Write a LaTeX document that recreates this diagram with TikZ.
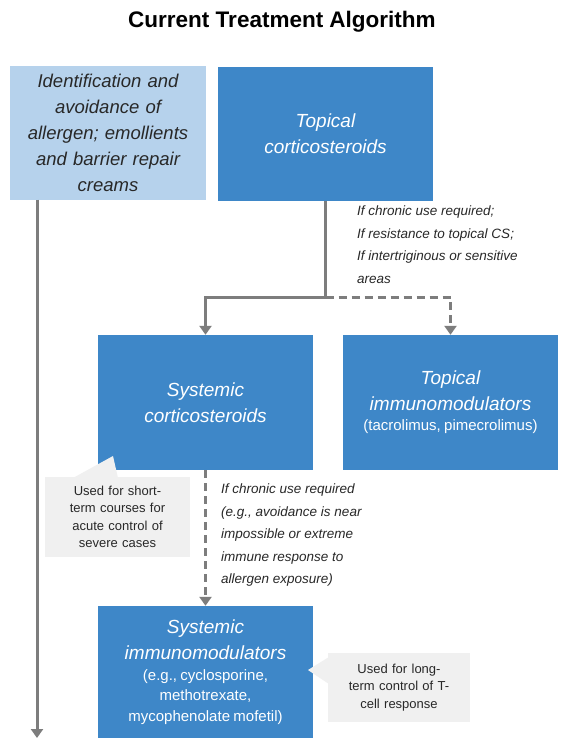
\documentclass[tikz,border=0pt]{standalone}
\usepackage{fontspec}
\setmainfont{Liberation Sans}
\usetikzlibrary{arrows.meta}
\definecolor{boxblue}{RGB}{62,135,200}
\definecolor{lightblue}{RGB}{182,210,236}
\definecolor{linegray}{RGB}{125,125,125}
\definecolor{callgray}{RGB}{240,240,240}
\definecolor{txtgray}{RGB}{40,40,40}
\tikzset{
  bluebox/.style={fill=boxblue, draw=none, minimum width=215pt, minimum height=135pt, inner sep=4pt, text=white, align=center, text width=205pt},
  lightbox/.style={fill=lightblue, draw=none, minimum width=196pt, minimum height=134pt, inner sep=3pt, text=txtgray, align=center, text width=190pt},
  callbox/.style={fill=callgray, draw=none, inner sep=2pt, text=txtgray, align=center, font=\fontsize{13}{17.5}\selectfont},
  conn/.style={draw=linegray, line width=3pt, -{Triangle[length=9pt,width=12pt]}},
  dconn/.style={conn, dash pattern=on 8pt off 5pt},
  cond/.style={text=txtgray, align=left, anchor=north west, inner sep=0pt, font=\fontsize{13.5}{22.5}\selectfont\itshape},
  big/.style={font=\fontsize{19}{26}\selectfont\itshape},
}
\begin{document}
\begin{tikzpicture}[x=1pt,y=-1pt]
\useasboundingbox[fill=white] (0,0) rectangle (564,740);
\node[font=\fontsize{22.5}{26}\selectfont\bfseries] (title) at (282,22) {Current Treatment Algorithm};

\node[lightbox, font=\fontsize{18.5}{26}\selectfont\itshape] (b1) at (108,132.5) {Identification and\\avoidance of\\allergen; emollients\\and barrier repair\\creams};
\node[bluebox, minimum height=134pt, big] (b2) at (325.5,134) {Topical\\corticosteroids};
\node[bluebox, big] (b3) at (205.5,402.5) {Systemic\\corticosteroids};
\node[bluebox] (b4) at (450.5,402.5) {{\fontsize{19}{26}\selectfont\itshape Topical\\immunomodulators\par}\fontsize{15}{20}\selectfont (tacrolimus, pimecrolimus)\par};
\node[bluebox, minimum height=132pt] (b5) at (205.5,672) {{\fontsize{19}{26}\selectfont\itshape Systemic\\immunomodulators\par}\fontsize{15}{20.5}\selectfont (e.g., cyclosporine,\\methotrexate,\\mycophenolate mofetil)\par};

% callouts
\node[callbox, minimum width=145pt, minimum height=80pt, text width=135pt] (c1) at (117.5,517) {Used for short-\\term courses for\\acute control of\\severe cases};
\fill[callgray] (73,478) -- (113,456) -- (118,478) -- cycle;
\node[callbox, minimum width=142pt, minimum height=69pt, text width=132pt] (c2) at (399,687.5) {Used for long-\\term control of T-\\cell response};
\fill[callgray] (329,657) -- (308,670) -- (329,684) -- cycle;

% connectors
\coordinate (j) at (325.5,297);
\draw[conn] (b2.south) -- (j) -| (b3.north);
\draw[dconn] (j) -| (b4.north);
\draw[dconn] (b3.south) -- (b5.north);
\coordinate (lend) at (37,738);
\draw[conn] (b1.south -| lend) -- (lend);

\node[cond] (t1) at (357,206) {If chronic use required;\\If resistance to topical CS;\\If intertriginous or sensitive\\areas};
\node[cond] (t2) at (221,484) {If chronic use required\\(e.g., avoidance is near\\impossible or extreme\\immune response to\\allergen exposure)};
\end{tikzpicture}
\end{document}
